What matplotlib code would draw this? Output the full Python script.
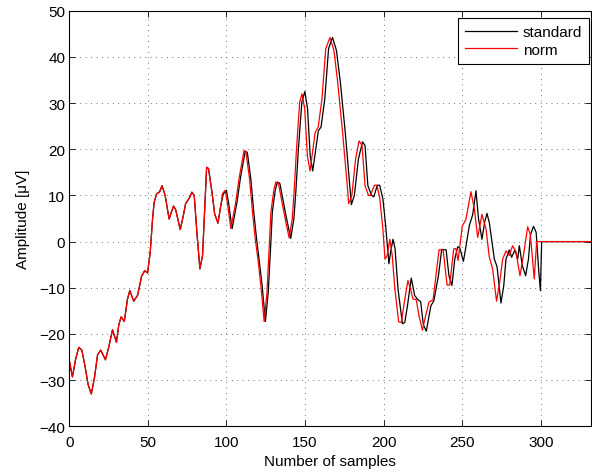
import matplotlib
matplotlib.use("Agg")
import matplotlib.pyplot as plt

plt.rcParams['font.family'] = ['Liberation Sans', 'DejaVu Sans']

# ---- data (sample index, amplitude in uV) ----
std_x = [0, 2, 4, 6, 8, 10, 12, 14, 16, 18, 20, 23, 25, 27.5, 30, 31.5, 33, 35, 37, 38.5,
         41, 43.5, 46, 48, 49.8, 51.5, 53, 54, 55.5, 57.5, 59, 61, 63.5, 66.3, 67.7, 70.6,
         72.5, 74, 76.5, 78, 79.5, 81.2, 83.1, 84.8, 86, 87.4, 88.6, 90.8, 92.5, 94.6, 96.5,
         98, 100, 101.5, 103.6, 106.7, 109, 112, 113.3, 115.5, 117.5, 119.3, 121, 122.7, 124.8,
         126.6, 128, 129.2, 131, 132.4, 134, 136, 137.9, 140.9, 142.9, 144.2, 145.8, 148,
         149.9, 151.6, 153.3, 154.9, 156.6, 158.5, 160.2, 162.6, 165, 167.5, 170, 172.5, 175.6,
         178.5, 179.5, 181.4, 184, 186.6, 188.2, 190, 192.4, 193.8, 196, 197.5, 199.6, 201.3,
         203.4, 204.6, 206, 207.3, 209.2, 212, 213.5, 215.2, 217.6, 219.8, 221.9, 223.6, 225.3,
         227.2, 230.1, 232, 234.9, 237, 239.8, 241.6, 243.5, 245.3, 247.2, 248.6, 250.8, 252.5,
         254.6, 256.7, 258.8, 260.4, 262.6, 264.3, 265.8, 267.3, 270.5, 272.2, 274.7, 276.5,
         277.9, 280, 281.5, 283.6, 285.3, 286.4, 288.3, 290.4, 292.2, 293.5, 295.4, 297.1,
         298.8, 299.8, 300.6, 333]
std_y = [-25.8, -29.3, -25.5, -22.9, -23.5, -27, -31, -33.0, -29.5, -24.5, -23.5, -25.6, -23,
         -19.1, -21.8, -18, -16.3, -17.3, -12.5, -10.6, -12.9, -11.6, -7.5, -6.3, -6.8, -2.3,
         5, 8.5, 10.3, 10.8, 12.1, 10, 4.9, 7.7, 6.9, 2.6, 5.5, 8.2, 9.5, 10.7, 10, 2, -5.9, -3,
         6, 16.1, 15.8, 10.7, 6, 4.0, 8, 10.3, 11.1, 8, 2.8, 8.5, 14, 19.6, 19.3, 13.6, 6, 0.2,
         -4.5, -9.5, -17.3, -11, -2, 6.4, 11, 12.9, 12.6, 9, 5.6, 0.7, 4.9, 11, 20.1, 30.2,
         32.5, 28.8, 18.6, 15.3, 19.4, 24.0, 24.8, 30.9, 41.8, 44.2, 41.4, 34.5, 23.7, 12.1,
         8.0, 10, 17.9, 21.6, 20.8, 12.1, 10, 9.7, 12.2, 12.2, 9.2, 3.5, -4.8, -2, 0.5, -1.5,
         -10.3, -17.8, -17.5, -13.9, -7.9, -11.7, -12.6, -13, -18, -19.4, -13.9, -12.8, -7.4,
         -1.7, -1.8, -7.4, -9.5, -3.8, -1.1, -1.5, -4.3, -0.9, 3.5, 5.8, 11.0, 5, 0.5, 4.2, 6.1,
         4.1, -3.8, -5.4, -13.3, -9.5, -3.8, -1.8, -3.4, -1.8, -3.8, -0.9, -5.2, -7.4, -3.8, 1.5,
         3.3, 2, -6.6, -10.6, 0, 0]

norm_x = [0, 2, 4, 6, 8, 10, 12, 14, 16, 18, 20, 23, 25, 27.5, 30, 31.5, 33, 35, 37, 38.5,
          41, 43.5, 46, 48, 49.8, 51.5, 53, 54, 55.5, 57.5, 59, 61, 63.5, 66.3, 67.7, 70.6,
          72.5, 74, 76.5, 78, 79.5, 81.2, 83.1, 84.8, 86, 87.4, 88.6, 90.8, 92.5, 94.6, 96.5,
          97.5, 99.2, 100.8, 102.8, 105.9, 108.2, 111.2, 112.4, 114.7, 116.7, 118.4, 120.2,
          121.9, 124.0, 125.8, 127.1, 128.3, 130.1, 131.4, 133.1, 135.1, 137, 139.9, 141.9,
          143.1, 144.6, 146.6, 148.1, 149.8, 151.5, 153.2, 154.8, 156.5, 158.4, 160.8, 163.2,
          165.9, 168.4, 170.8, 173.9, 176.9, 177.8, 179.8, 182.2, 184.4, 186.3, 188.2, 190.4,
          191.6, 194.2, 195.8, 197.5, 199.5, 200.9, 202.3, 204, 205.5, 207.2, 209.6, 211.3,
          213.5, 215.5, 217.3, 218.7, 220.8, 222.5, 224.7, 226.8, 228.9, 231.5, 233.3, 235.3,
          237.9, 240.4, 242.1, 244.6, 246, 247.4, 250.1, 252.4, 255.6, 257.8, 259.9, 262.6,
          265.2, 267.3, 269.4, 271.9, 273.8, 275.8, 277.9, 280, 282.1, 284.3, 286.8, 289,
          291.7, 293.4, 295.9, 297.4, 333]
norm_y = [-25.8, -29.3, -25.5, -22.9, -23.5, -27, -31, -33.0, -29.5, -24.5, -23.5, -25.6, -23,
          -19.1, -21.8, -18, -16.3, -17.3, -12.5, -10.6, -12.9, -11.6, -7.5, -6.3, -6.8, -2.3,
          5, 8.5, 10.3, 10.8, 12.1, 10, 4.9, 7.7, 6.9, 2.6, 5.5, 8.2, 9.5, 10.7, 10, 2, -5.9,
          -3, 6, 16.1, 15.8, 10.7, 6, 4.0, 8, 10.4, 11.1, 8, 2.8, 8.5, 14, 19.7, 19.4, 13.6, 6,
          0.4, -4.2, -9.5, -17.3, -11, -2, 6.4, 11, 12.9, 12.6, 9, 5.6, 0.8, 4.9, 11, 20.1,
          30.2, 32.0, 28.8, 18.6, 15.3, 19.4, 23.7, 24.8, 30.9, 41.8, 44.2, 41.4, 34.5, 23.7,
          12.1, 8.2, 10, 17.9, 21.8, 20.8, 12.1, 10, 10.0, 12.2, 12.2, 9.6, 3, -3.8, -3, 0.5,
          -3, -10.3, -17.4, -17.5, -12.5, -8.4, -10.5, -12.4, -12.6, -16, -19.2, -16, -13.1,
          -12.6, -7.5, -1.8, -1.8, -9.4, -9.4, -1.6, -1.5, -4.1, 3.4, 4.8, 10.8, 7, 0.9, 5.9,
          2.7, -3.4, -5.9, -12.9, -9, -3.8, -2, -3, -0.9, -2.3, -7.4, -3, 3.2, 1.5, -8.1, 0, 0]

x_ticks = [0, 50, 100, 150, 200, 250, 300]
y_ticks = [-40, -30, -20, -10, 0, 10, 20, 30, 40, 50]

FS = 11

fig = plt.figure(figsize=(5.92, 4.77), dpi=100)
ax = fig.add_axes([69.3 / 592, 1 - 427.3 / 477, (591 - 69.3) / 592, (427.3 - 11.7) / 477])

ax.plot(std_x, std_y, color='black', lw=0.9, label='standard')
ax.plot(norm_x, norm_y, color='#ff0000', lw=0.9, label='norm')

ax.set_xlim(0, 332)
ax.set_ylim(-40, 50)
ax.set_xticks(x_ticks)
ax.set_yticks(y_ticks)
ax.set_yticklabels([str(v).replace('-', '\u2212') for v in y_ticks])
ax.tick_params(direction='in', length=4, width=0.6, labelsize=FS, top=True, right=True,
               colors='black')
ax.tick_params(axis='x', pad=6)
ax.tick_params(axis='y', pad=3)
ax.grid(True, linestyle=(0, (1, 5.5)), color='#444444', lw=0.6)
for s in ax.spines.values():
    s.set_linewidth(0.8)
    s.set_color('black')

ax.set_xlabel('Number of samples', fontsize=FS, labelpad=4)
ax.set_ylabel('Amplitude [\u03bcV]', fontsize=FS, labelpad=7)

leg = ax.legend(loc='upper right', bbox_to_anchor=(589 / 592, 1 - 19 / 477),
                bbox_transform=fig.transFigure, fontsize=FS, frameon=True, fancybox=False,
                edgecolor='black', framealpha=1, borderaxespad=0, handlelength=3.4,
                borderpad=0.45, labelspacing=0.25, handletextpad=0.4)
leg.get_frame().set_linewidth(0.8)

fig.savefig('out.png', dpi=100)
